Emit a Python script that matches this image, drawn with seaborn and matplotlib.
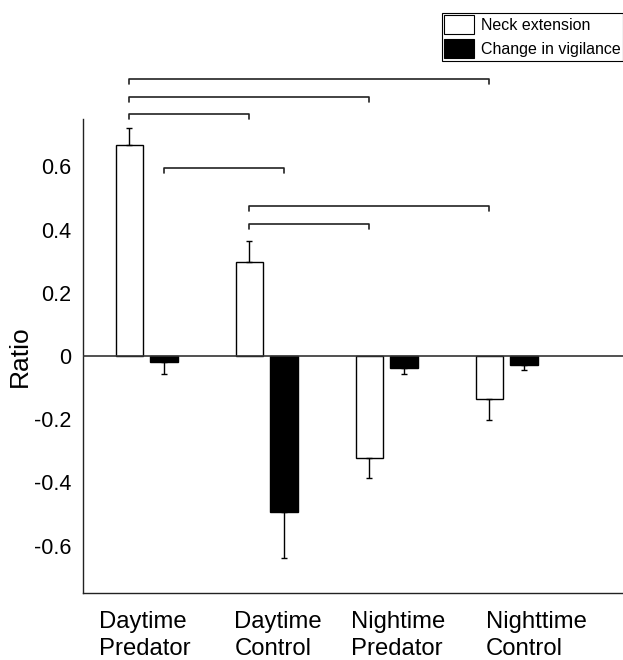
import numpy as np
import matplotlib.pyplot as plt
import matplotlib.patches as mpatches
from matplotlib.transforms import ScaledTranslation
import pandas as pd
import seaborn as sns

groups = ['Daytime\nPredator', 'Daytime\nControl', 'Nightime\nPredator', 'Nighttime\nControl']
series = ['Neck extension', 'Change in vigilance']
neck = [0.669, 0.298, -0.324, -0.135]
neck_err = [0.052, 0.065, 0.061, 0.069]
vigil = [-0.018, -0.494, -0.037, -0.027]
vigil_err = [0.040, 0.144, 0.019, 0.018]
colors = ['white', 'black']

# significance brackets: (series, group) -> (series, group), height
brackets = [((0, 0), (0, 3), 0.878),
            ((0, 0), (0, 2), 0.821),
            ((0, 0), (0, 1), 0.766),
            ((1, 0), (1, 1), 0.595),
            ((0, 1), (0, 3), 0.474),
            ((0, 1), (0, 2), 0.418)]

yticks = [-0.6, -0.4, -0.2, 0, 0.2, 0.4, 0.6]
label_shift = [-1.4, 8.3, 8.6, 21.2]  # points, tick labels sit a bit off their ticks

df = pd.DataFrame({'group': groups * 2,
                   'series': [series[0]] * 4 + [series[1]] * 4,
                   'value': neck + vigil})

sns.set_theme(style='white')
plt.rcParams['font.family'] = ['Liberation Sans', 'DejaVu Sans']
plt.rcParams['axes.unicode_minus'] = False
plt.rcParams['text.color'] = 'black'
plt.rcParams['axes.labelcolor'] = 'black'
plt.rcParams['xtick.color'] = 'black'
plt.rcParams['ytick.color'] = 'black'

fig = plt.figure(figsize=(6.23, 6.6), dpi=100)
ax = fig.add_axes([0.1327, 0.1015, 0.8673, 0.7182])

sns.barplot(data=df, x='group', y='value', hue='series', order=groups, hue_order=series,
            palette=colors, edgecolor='black', linewidth=1, width=0.576, gap=0.2,
            errorbar=None, legend=False, ax=ax, zorder=2)

centers = []
for k, cont in enumerate(ax.containers[:2]):
    xs = sorted(p.get_x() + p.get_width() / 2 for p in cont.patches)
    centers.append(xs)
    vals = np.array([neck, vigil][k])
    errs = np.array([neck_err, vigil_err][k])
    lo = np.where(vals < 0, errs, 0)
    hi = np.where(vals > 0, errs, 0)
    ax.errorbar(xs, vals, yerr=[lo, hi], fmt='none', ecolor='black', elinewidth=1,
                capsize=2.4, capthick=1, zorder=3)

ax.axhline(0, color='#333333', lw=1.2, zorder=4)

for (s1, g1), (s2, g2), h in brackets:
    x1, x2 = centers[s1][g1], centers[s2][g2]
    ax.plot([x1, x1, x2, x2], [h - 0.016, h, h, h - 0.016], color='#222222', lw=1.2,
            clip_on=False, zorder=5)

ax.set_xlim(-0.533, 3.97)
ax.set_ylim(-0.75, 0.75)
ax.set_yticks(yticks)
ax.set_yticklabels([f'{v:g}' for v in yticks])
ax.set_xlabel('')
ax.set_ylabel('Ratio', fontsize=19)
ax.yaxis.set_label_coords(-0.094, 0.5)
ax.tick_params(axis='y', direction='in', length=4, width=1, labelsize=15.5, pad=8, color='#222222')
ax.tick_params(axis='x', direction='in', length=4, width=1, labelsize=17.2, pad=13, color='#222222')
for lab, dx in zip(ax.get_xticklabels(), label_shift):
    lab.set_multialignment('left')
    lab.set_linespacing(1.3)
    lab.set_transform(lab.get_transform() + ScaledTranslation(dx / 72, 0, fig.dpi_scale_trans))

sns.despine(ax=ax)
for side in ['left', 'bottom']:
    ax.spines[side].set_color('#222222')
    ax.spines[side].set_linewidth(1)

handles = [mpatches.Patch(facecolor=c, edgecolor='black', lw=0.8) for c in colors]
leg = fig.legend(handles, series, loc='upper right', bbox_to_anchor=(1.0, 0.981),
                 frameon=True, fancybox=False, edgecolor='black', framealpha=1,
                 fontsize=11.5, handlelength=1.9, handleheight=1.45, labelspacing=0.35,
                 handletextpad=0.4, borderpad=0.15, borderaxespad=0)
leg.get_frame().set_linewidth(0.8)

fig.savefig('out.png', dpi=100)
